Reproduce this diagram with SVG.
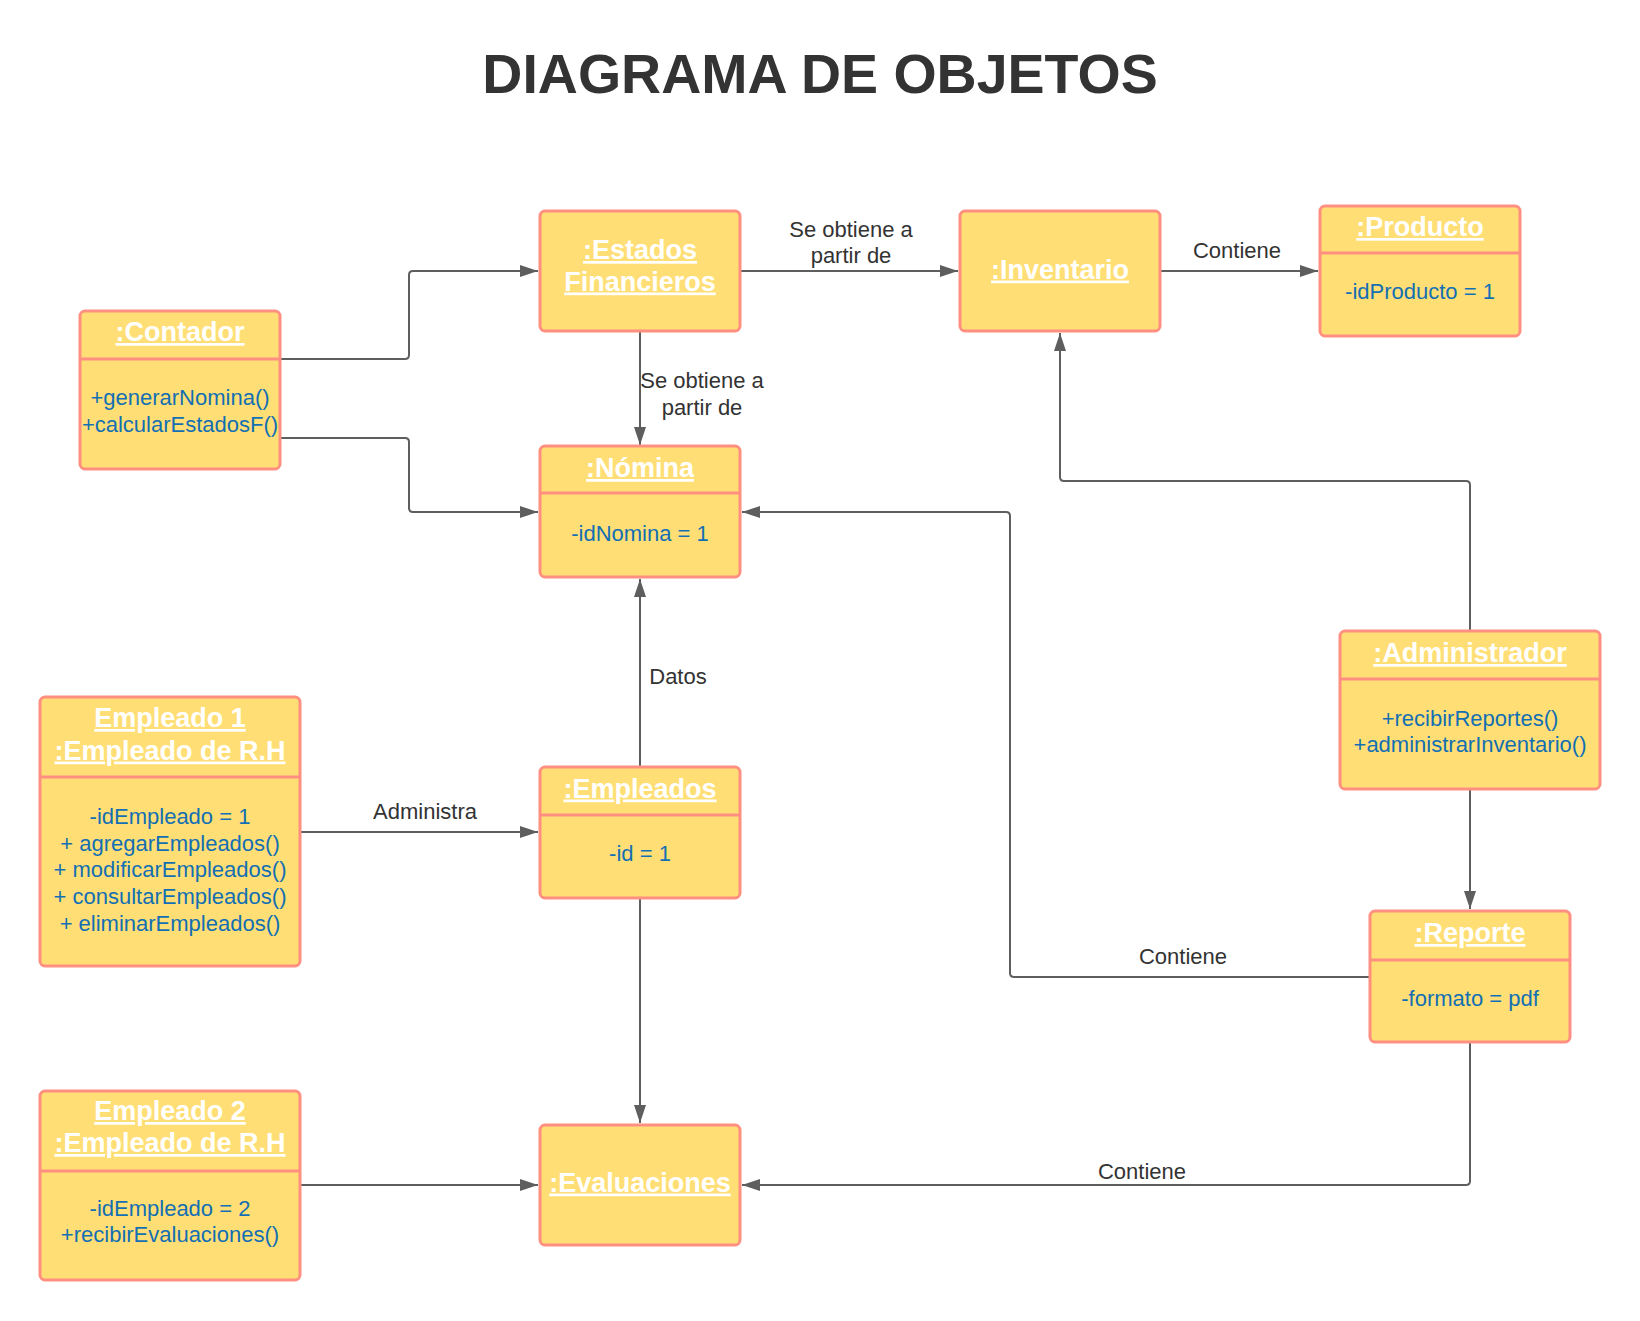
<svg xmlns="http://www.w3.org/2000/svg" width="1640" height="1321" viewBox="0 0 1640 1321">
<style>
.box{fill:#FFDF75;stroke:#FF8F80;stroke-width:3}
.div{stroke:#FF8F80;stroke-width:3}
.hd{font-family:"Liberation Sans",Arial,sans-serif;font-size:27px;font-weight:bold;fill:#FFFFFF;text-anchor:middle;text-decoration:underline}
.bd{font-family:"Liberation Sans",Arial,sans-serif;font-size:22px;fill:#136FB3;text-anchor:middle}
.lb{font-family:"Liberation Sans",Arial,sans-serif;font-size:22px;fill:#333333;text-anchor:middle}
.cn{fill:none;stroke:#5E5E5E;stroke-width:2;marker-end:url(#arr)}
</style>
<defs>
<marker id="arr" markerUnits="userSpaceOnUse" markerWidth="18" markerHeight="12" refX="18" refY="6" orient="auto">
<path d="M0,0 L18,6 L0,12 z" fill="#5E5E5E"/>
</marker>
</defs>
<rect width="1640" height="1321" fill="#FFFFFF"/>
<text x="820" y="93" font-family="Liberation Sans,Arial,sans-serif" font-size="55.5" font-weight="bold" fill="#333333" text-anchor="middle">DIAGRAMA DE OBJETOS</text>

<g id="connectors">
<path class="cn" d="M281,359 H405 Q409,359 409,355 V275 Q409,271 413,271 H538"/>
<path class="cn" d="M281,438 H405 Q409,438 409,442 V508 Q409,512 413,512 H538"/>
<path class="cn" d="M741,271 H958"/>
<path class="cn" d="M1161,271 H1318"/>
<path class="cn" d="M640,332 V445"/>
<path class="cn" d="M640,766 V579"/>
<path class="cn" d="M301,832 H538"/>
<path class="cn" d="M640,899 V1123"/>
<path class="cn" d="M301,1185 H538"/>
<path class="cn" d="M1470,630 V485 Q1470,481 1466,481 H1064 Q1060,481 1060,477 V333"/>
<path class="cn" d="M1470,790 V909"/>
<path class="cn" d="M1369,977 H1014 Q1010,977 1010,973 V516 Q1010,512 1006,512 H742"/>
<path class="cn" d="M1470,1043 V1181 Q1470,1185 1466,1185 H742"/>
<text class="lb" x="851" y="236.5">Se obtiene a</text>
<text class="lb" x="851" y="263">partir de</text>
<text class="lb" x="1237" y="258">Contiene</text>
<text class="lb" x="702" y="388">Se obtiene a</text>
<text class="lb" x="702" y="414.5">partir de</text>
<text class="lb" x="678" y="683.5">Datos</text>
<text class="lb" x="425" y="819">Administra</text>
<text class="lb" x="1183" y="963.5">Contiene</text>
<text class="lb" x="1142" y="1178.5">Contiene</text>
</g>

<g id="contador">
<rect class="box" x="80" y="311" width="200" height="158" rx="5"/>
<line class="div" x1="80" y1="359" x2="280" y2="359"/>
<text class="hd" x="180" y="341">:Contador</text>
<text class="bd" x="180" y="405">+generarNomina()</text>
<text class="bd" x="180" y="432">+calcularEstadosF()</text>
</g>

<g id="estados">
<rect class="box" x="540" y="211" width="200" height="120" rx="5"/>
<text class="hd" x="640" y="259">:Estados</text>
<text class="hd" x="640" y="290.5">Financieros</text>
</g>

<g id="inventario">
<rect class="box" x="960" y="211" width="200" height="120" rx="5"/>
<text class="hd" x="1060" y="278.5">:Inventario</text>
</g>

<g id="producto">
<rect class="box" x="1320" y="206" width="200" height="130" rx="5"/>
<line class="div" x1="1320" y1="253" x2="1520" y2="253"/>
<text class="hd" x="1420" y="236">:Producto</text>
<text class="bd" x="1420" y="298.5">-idProducto = 1</text>
</g>

<g id="nomina">
<rect class="box" x="540" y="446" width="200" height="131" rx="5"/>
<line class="div" x1="540" y1="493" x2="740" y2="493"/>
<text class="hd" x="640" y="477">:Nómina</text>
<text class="bd" x="640" y="540.5">-idNomina = 1</text>
</g>

<g id="empleado1">
<rect class="box" x="40" y="697" width="260" height="269" rx="5"/>
<line class="div" x1="40" y1="777" x2="300" y2="777"/>
<text class="hd" x="170" y="727">Empleado 1</text>
<text class="hd" x="170" y="759.5">:Empleado de R.H</text>
<text class="bd" x="170" y="823.5">-idEmpleado = 1</text>
<text class="bd" x="170" y="850.5">+ agregarEmpleados()</text>
<text class="bd" x="170" y="877">+ modificarEmpleados()</text>
<text class="bd" x="170" y="903.5">+ consultarEmpleados()</text>
<text class="bd" x="170" y="930.5">+ eliminarEmpleados()</text>
</g>

<g id="empleados">
<rect class="box" x="540" y="767" width="200" height="131" rx="5"/>
<line class="div" x1="540" y1="815" x2="740" y2="815"/>
<text class="hd" x="640" y="797.5">:Empleados</text>
<text class="bd" x="640" y="861">-id = 1</text>
</g>

<g id="administrador">
<rect class="box" x="1340" y="631" width="260" height="158" rx="5"/>
<line class="div" x1="1340" y1="679" x2="1600" y2="679"/>
<text class="hd" x="1470" y="662">:Administrador</text>
<text class="bd" x="1470" y="725.5">+recibirReportes()</text>
<text class="bd" x="1470" y="752">+administrarInventario()</text>
</g>

<g id="reporte">
<rect class="box" x="1370" y="911" width="200" height="131" rx="5"/>
<line class="div" x1="1370" y1="960" x2="1570" y2="960"/>
<text class="hd" x="1470" y="942">:Reporte</text>
<text class="bd" x="1470" y="1005.5">-formato = pdf</text>
</g>

<g id="empleado2">
<rect class="box" x="40" y="1091" width="260" height="189" rx="5"/>
<line class="div" x1="40" y1="1171" x2="300" y2="1171"/>
<text class="hd" x="170" y="1120">Empleado 2</text>
<text class="hd" x="170" y="1152">:Empleado de R.H</text>
<text class="bd" x="170" y="1215.5">-idEmpleado = 2</text>
<text class="bd" x="170" y="1242">+recibirEvaluaciones()</text>
</g>

<g id="evaluaciones">
<rect class="box" x="540" y="1125" width="200" height="120" rx="5"/>
<text class="hd" x="640" y="1191.5">:Evaluaciones</text>
</g>
</svg>
